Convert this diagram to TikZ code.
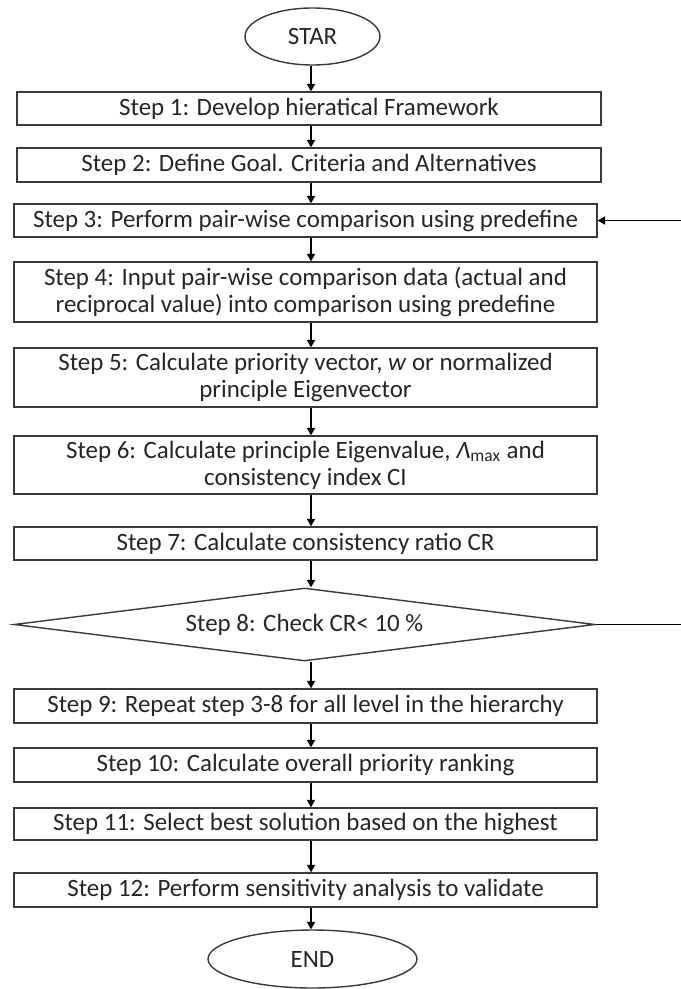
\documentclass[tikz,border=0pt]{standalone}
\usepackage{fontspec}
\setmainfont{Carlito}
\usepackage{tikz}
\usetikzlibrary{arrows.meta,shapes.geometric}
\definecolor{LineGray}{HTML}{3A3A3A}
\definecolor{TextGray}{HTML}{262626}
\newcommand{\ahpstep}[5]{\node[draw=LineGray,line width=0.8pt,fill=white,
  minimum width=#3,minimum height=#4,inner sep=0pt,align=center,
  text=TextGray] (#1) at #2 {#5};}
\newcommand{\ahpterm}[5]{\node[ellipse,draw=LineGray,line width=0.8pt,
  minimum width=#3,minimum height=#4,inner sep=0pt,
  text=TextGray] (#1) at #2 {#5};}

\begin{document}
\begin{tikzpicture}[
  x=0.02cm, y=-0.02cm,
  font=\fontsize{14.2}{15.4}\selectfont,
  arr/.style={-{Triangle[width=4.6pt,length=4.2pt]}, draw=black, line width=0.7pt},
]
\useasboundingbox (0,0) rectangle (680,989);

% axis of the main arrows, and the column of the feedback loop
\coordinate (axis) at (311,0);
\coordinate (loop) at (686,0);

%% ── Start ────────────────────────────────────────────────────────────────
\ahpterm{STAR}{(312.5,36.5)}{2.7cm}{1.14cm}{STAR}

%% ── Steps 1 to 7 ─────────────────────────────────────────────────────────
\ahpstep{S1}{(309,108.5)}{11.68cm}{0.66cm}{Step 1: Develop hieratical Framework}
\ahpstep{S2}{(309,165)}{11.68cm}{0.68cm}{Step 2: Define Goal. Criteria and Alternatives}
\ahpstep{S3}{(305.5,220.5)}{11.66cm}{0.66cm}{Step 3: Perform pair-wise comparison using predefine}
\ahpstep{S4}{(305.5,292)}{11.66cm}{1.2cm}{Step 4: Input pair-wise comparison data (actual and\\
  reciprocal value) into comparison using predefine}
\ahpstep{S5}{(305.5,377.5)}{11.66cm}{1.18cm}{Step 5: Calculate priority vector, \textit{w} or normalized\\
  principle Eigenvector}
\ahpstep{S6}{(305.5,465)}{11.66cm}{1.16cm}{Step 6: Calculate principle Eigenvalue, \textit{Λ}\textsubscript{max} and\\
  consistency index CI}
\ahpstep{S7}{(305.5,543.5)}{11.66cm}{0.66cm}{Step 7: Calculate consistency ratio CR}

%% ── Check ────────────────────────────────────────────────────────────────
\node[diamond, shape aspect=8, draw=LineGray, line width=0.8pt, inner sep=0pt,
  minimum width=11.62cm, minimum height=1.46cm, text=TextGray]
  (S8) at (304.5,624.5) {Step 8: Check CR< 10 \%};

%% ── Steps 9 to 12 ────────────────────────────────────────────────────────
\ahpstep{S9}{(305.5,706)}{11.66cm}{0.68cm}{Step 9: Repeat step 3-8 for all level in the hierarchy}
\ahpstep{S10}{(305.5,765)}{11.66cm}{0.68cm}{Step 10: Calculate overall priority ranking}
\ahpstep{S11}{(305.5,824)}{11.66cm}{0.64cm}{Step 11: Select best solution based on the highest}
\ahpstep{S12}{(305.5,890)}{11.66cm}{0.68cm}{Step 12: Perform sensitivity analysis to validate}

%% ── End ──────────────────────────────────────────────────────────────────
\ahpterm{END}{(312.5,959)}{4.18cm}{1.16cm}{END}

%% ── Arrows ───────────────────────────────────────────────────────────────
\foreach \a/\b in {STAR/S1,S1/S2,S2/S3,S3/S4,S4/S5,S5/S6,S6/S7,S7/S8,
                   S8/S9,S9/S10,S10/S11,S11/S12,S12/END}
  \draw[arr] (\a.south -| axis) -- (\b.north -| axis);

% back to step 3
\draw[arr] (S8.east) -- (S8.east -| loop) |- (S3.east);

\end{tikzpicture}
\end{document}
